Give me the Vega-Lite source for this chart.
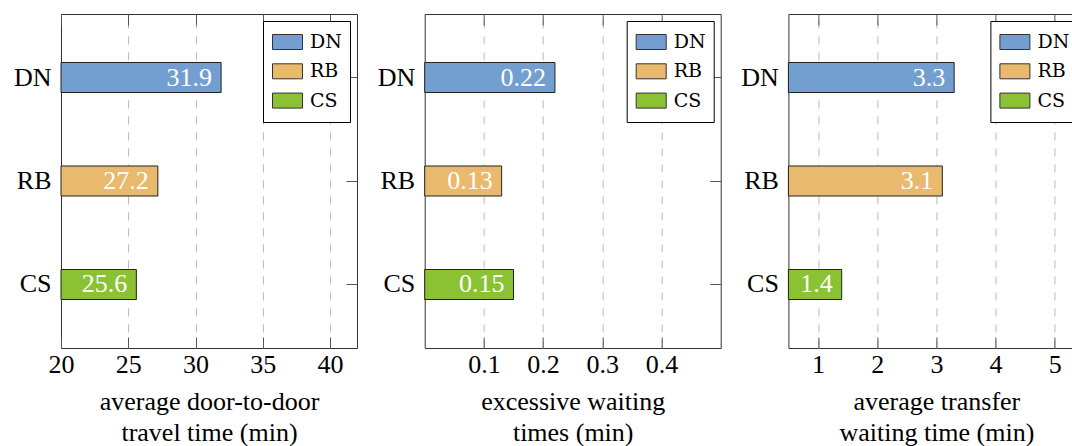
{
  "$schema": "https://vega.github.io/schema/vega-lite/v6.json",
  "padding": {"left": 12, "top": 13, "right": 0, "bottom": 0},
  "background": "white",
  "bounds": "flush",
  "spacing": 67.7,
  "config": {
    "font": "'Liberation Serif', 'DejaVu Serif', serif",
    "text": {"font": "'Liberation Serif', 'DejaVu Serif', serif"},
    "view": {"stroke": "#333", "strokeWidth": 1},
    "axis": {
      "labelFont": "'Liberation Serif', 'DejaVu Serif', serif",
      "labelFontSize": 26,
      "labelColor": "black",
      "labelFlush": false,
      "titleFont": "'Liberation Serif', 'DejaVu Serif', serif",
      "titleFontSize": 26,
      "titleFontWeight": "normal",
      "titleColor": "black",
      "titleLineHeight": 31,
      "domain": false,
      "tickColor": "#555",
      "tickWidth": 1,
      "gridColor": "#bbbbbb",
      "gridDash": [8, 8],
      "gridWidth": 1
    },
    "legend": {
      "orient": "top-right",
      "offset": 7,
      "fillColor": "white",
      "strokeColor": "black",
      "strokeWidth": 1,
      "padding": 8,
      "symbolOffset": 1,
      "clipHeight": 26,
      "symbolType": "M-1,-0.5H1V0.5H-1Z",
      "symbolSize": 900,
      "symbolStrokeColor": "#333",
      "symbolStrokeWidth": 1,
      "symbolOpacity": 1,
      "labelFont": "'DejaVu Serif', serif",
      "labelFontSize": 19,
      "labelColor": "black",
      "labelOffset": 7,
      "rowPadding": 3.3
    }
  },
  "resolve": {
    "scale": {"x": "independent", "y": "independent", "color": "independent"},
    "legend": {"color": "independent"},
    "axis": {"x": "independent", "y": "independent"}
  },
  "hconcat": [
    {
      "width": 296,
      "height": 334,
      "data": {"values": [
        {"method": "DN", "value": 31.9},
        {"method": "RB", "value": 27.2},
        {"method": "CS", "value": 25.6}
      ]},
      "resolve": {"axis": {"x": "independent", "y": "independent"}},
      "layer": [
        {
          "mark": {"type": "bar", "stroke": "#222", "strokeWidth": 1},
          "encoding": {
            "y": {"field": "method", "type": "nominal", "sort": ["DN", "RB", "CS"],
                  "scale": {"domain": ["DN", "RB", "CS"], "paddingInner": 0.71, "paddingOuter": 0.4686},
                  "axis": {"orient": "left", "ticks": false, "labelPadding": 10, "title": null, "grid": false}},
            "x": {"field": "value", "type": "quantitative",
                  "scale": {"domain": [20, 42], "zero": false, "nice": false},
                  "axis": {"orient": "bottom", "values": [20, 25, 30, 35, 40], "grid": true,
                           "gridOpacity": {"condition": {"test": "datum.value == 20", "value": 0}, "value": 1},
                           "ticks": true, "tickSize": -11, "labelPadding": 14, "title": ["average door-to-door", "travel time (min)"], "titlePadding": 11}},
            "x2": {"datum": 20},
            "color": {"field": "method", "type": "nominal",
                      "scale": {"domain": ["DN", "RB", "CS"], "range": ["#729fcf", "#e9b96e", "#8ac234"]},
                      "legend": {"title": null}}
          }
        },
        {
          "mark": {"type": "text", "align": "right", "baseline": "middle", "dx": -9, "fontSize": 26, "color": "white"},
          "encoding": {
            "y": {"field": "method", "type": "nominal", "sort": ["DN", "RB", "CS"],
                  "scale": {"domain": ["DN", "RB", "CS"], "paddingInner": 0.71, "paddingOuter": 0.4686},
                  "axis": {"orient": "right", "labels": false, "ticks": true, "tickSize": -11, "title": null, "grid": false}},
            "x": {"field": "value", "type": "quantitative",
                  "scale": {"domain": [20, 42], "zero": false, "nice": false},
                  "axis": {"orient": "top", "values": [20, 25, 30, 35, 40], "labels": false, "grid": false, "ticks": true, "tickSize": -11, "title": null}},
            "text": {"field": "value", "type": "quantitative", "format": ".1f"}
          }
        }
      ]
    },
    {
      "width": 296,
      "height": 334,
      "data": {"values": [
        {"method": "DN", "value": 0.22},
        {"method": "RB", "value": 0.13},
        {"method": "CS", "value": 0.15}
      ]},
      "resolve": {"axis": {"x": "independent", "y": "independent"}},
      "layer": [
        {
          "mark": {"type": "bar", "stroke": "#222", "strokeWidth": 1},
          "encoding": {
            "y": {"field": "method", "type": "nominal", "sort": ["DN", "RB", "CS"],
                  "scale": {"domain": ["DN", "RB", "CS"], "paddingInner": 0.71, "paddingOuter": 0.4686},
                  "axis": {"orient": "left", "ticks": false, "labelPadding": 10, "title": null, "grid": false}},
            "x": {"field": "value", "type": "quantitative",
                  "scale": {"domain": [0, 0.5], "zero": false, "nice": false},
                  "axis": {"orient": "bottom", "values": [0.1, 0.2, 0.3, 0.4], "format": ".1f", "grid": true, "ticks": true, "tickSize": -11, "labelPadding": 14, "title": ["excessive waiting", "times (min)"], "titlePadding": 11}},
            "x2": {"datum": 0},
            "color": {"field": "method", "type": "nominal",
                      "scale": {"domain": ["DN", "RB", "CS"], "range": ["#729fcf", "#e9b96e", "#8ac234"]},
                      "legend": {"title": null}}
          }
        },
        {
          "mark": {"type": "text", "align": "right", "baseline": "middle", "dx": -9, "fontSize": 26, "color": "white"},
          "encoding": {
            "y": {"field": "method", "type": "nominal", "sort": ["DN", "RB", "CS"],
                  "scale": {"domain": ["DN", "RB", "CS"], "paddingInner": 0.71, "paddingOuter": 0.4686},
                  "axis": {"orient": "right", "labels": false, "ticks": true, "tickSize": -11, "title": null, "grid": false}},
            "x": {"field": "value", "type": "quantitative",
                  "scale": {"domain": [0, 0.5], "zero": false, "nice": false},
                  "axis": {"orient": "top", "values": [0.1, 0.2, 0.3, 0.4], "labels": false, "grid": false, "ticks": true, "tickSize": -11, "title": null}},
            "text": {"field": "value", "type": "quantitative", "format": ".2f"}
          }
        }
      ]
    },
    {
      "width": 296,
      "height": 334,
      "data": {"values": [
        {"method": "DN", "value": 3.3},
        {"method": "RB", "value": 3.1},
        {"method": "CS", "value": 1.4}
      ]},
      "resolve": {"axis": {"x": "independent", "y": "independent"}},
      "layer": [
        {
          "mark": {"type": "bar", "stroke": "#222", "strokeWidth": 1},
          "encoding": {
            "y": {"field": "method", "type": "nominal", "sort": ["DN", "RB", "CS"],
                  "scale": {"domain": ["DN", "RB", "CS"], "paddingInner": 0.71, "paddingOuter": 0.4686},
                  "axis": {"orient": "left", "ticks": false, "labelPadding": 10, "title": null, "grid": false}},
            "x": {"field": "value", "type": "quantitative",
                  "scale": {"domain": [0.5, 5.5], "zero": false, "nice": false},
                  "axis": {"orient": "bottom", "values": [1, 2, 3, 4, 5], "format": "d", "grid": true, "ticks": true, "tickSize": -11, "labelPadding": 14, "title": ["average transfer", "waiting time (min)"], "titlePadding": 11}},
            "x2": {"datum": 0.5},
            "color": {"field": "method", "type": "nominal",
                      "scale": {"domain": ["DN", "RB", "CS"], "range": ["#729fcf", "#e9b96e", "#8ac234"]},
                      "legend": {"title": null}}
          }
        },
        {
          "mark": {"type": "text", "align": "right", "baseline": "middle", "dx": -9, "fontSize": 26, "color": "white"},
          "encoding": {
            "y": {"field": "method", "type": "nominal", "sort": ["DN", "RB", "CS"],
                  "scale": {"domain": ["DN", "RB", "CS"], "paddingInner": 0.71, "paddingOuter": 0.4686},
                  "axis": {"orient": "right", "labels": false, "ticks": true, "tickSize": -11, "title": null, "grid": false}},
            "x": {"field": "value", "type": "quantitative",
                  "scale": {"domain": [0.5, 5.5], "zero": false, "nice": false},
                  "axis": {"orient": "top", "values": [1, 2, 3, 4, 5], "labels": false, "grid": false, "ticks": true, "tickSize": -11, "title": null}},
            "text": {"field": "value", "type": "quantitative", "format": ".1f"}
          }
        }
      ]
    }
  ]
}
